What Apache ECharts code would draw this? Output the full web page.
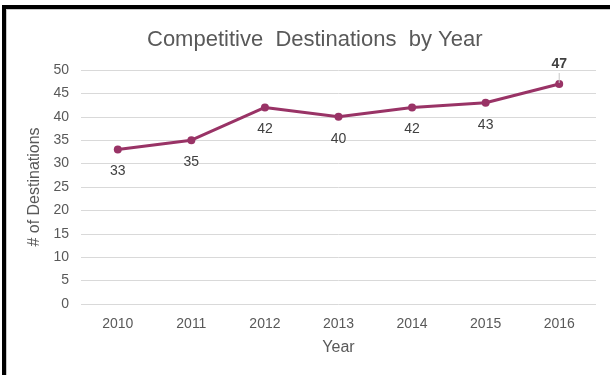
<!DOCTYPE html>
<html>
<head>
<meta charset="utf-8">
<script src="https://cdn.jsdelivr.net/npm/echarts@6/dist/echarts.min.js"></script>
<style>
  html, body { margin: 0; padding: 0; background: #fff; }
  #chart { position: absolute; left: 0; top: 0; width: 610px; height: 375px; }
  #frame { position: absolute; left: 2px; top: 5px; width: 620px; height: 380px;
           border-top: 4px solid #000; border-left: 4px solid #000; pointer-events: none; }
  #inner { position: absolute; left: 6px; top: 9px; width: 620px; height: 380px;
           border-top: 1px solid #c8c8c8; border-left: 1px solid #c8c8c8; pointer-events: none; }
</style>
</head>
<body>
<div id="chart"></div>
<div id="frame"></div>
<div id="inner"></div>
<script>
const years = ['2010', '2011', '2012', '2013', '2014', '2015', '2016'];
const destinations = [33, 35, 42, 40, 42, 43, 47];

const chart = echarts.init(document.getElementById('chart'), null, { renderer: 'canvas' });
const font = 'Liberation Sans, Arial, sans-serif';

// Last point gets a bold label above it with a short leader tick.
const seriesData = destinations.map((v, i) => {
  if (i === destinations.length - 1) {
    return {
      value: v,
      label: {
        position: 'top',
        distance: 3,
        offset: [0, 6],
        formatter: '{v|{c}}\n{l|}',
        rich: {
          v: { fontFamily: font, fontSize: 14, fontWeight: 'bold', color: '#404040', lineHeight: 17 },
          l: { width: 1, height: 10, backgroundColor: '#c8c8c8' }
        }
      }
    };
  }
  return v;
});

chart.setOption({
  animation: false,
  backgroundColor: '#fff',
  title: {
    text: 'Competitive  Destinations  by Year',
    left: 142,
    top: 24,
    textStyle: { fontFamily: font, fontSize: 22, fontWeight: 'normal', color: '#595959' }
  },
  grid: { left: 81, right: 14, top: 70, bottom: 71 },
  xAxis: {
    type: 'category',
    data: years,
    boundaryGap: true,
    name: 'Year',
    nameLocation: 'middle',
    nameGap: 36,
    nameTextStyle: { fontFamily: font, fontSize: 16, color: '#595959' },
    axisLine: { show: false },
    axisTick: { show: false },
    axisLabel: { fontFamily: font, fontSize: 14, color: '#595959', margin: 13 }
  },
  yAxis: {
    type: 'value',
    min: 0,
    max: 50,
    interval: 5,
    name: '# of Destinations',
    nameLocation: 'middle',
    nameGap: 34,
    nameTextStyle: { fontFamily: font, fontSize: 16, color: '#595959' },
    axisLine: { show: false },
    axisTick: { show: false },
    axisLabel: { fontFamily: font, fontSize: 14, color: '#595959', margin: 12 },
    splitLine: { lineStyle: { color: '#d9d9d9', width: 1 } }
  },
  series: [{
    type: 'line',
    data: seriesData,
    symbol: 'circle',
    symbolSize: 8,
    lineStyle: { color: '#993366', width: 3 },
    itemStyle: { color: '#993366' },
    label: {
      show: true,
      position: 'bottom',
      distance: 11,
      fontFamily: font,
      fontSize: 14,
      color: '#404040'
    }
  }]
});
</script>
</body>
</html>
